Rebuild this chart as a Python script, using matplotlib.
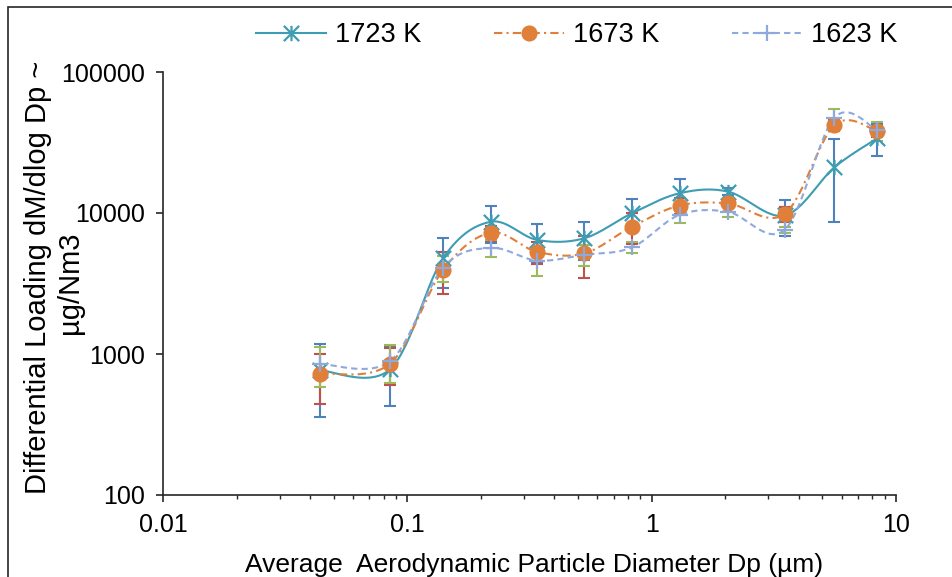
import numpy as np
import matplotlib.pyplot as plt
from matplotlib.lines import Line2D
from matplotlib.path import Path
from matplotlib.patches import Rectangle

plt.rcParams['font.family'] = ['Liberation Sans', 'DejaVu Sans']

# Datos (diametro en um, carga diferencial en ug/Nm3)
diametro = [0.044, 0.085, 0.14, 0.22, 0.34, 0.53, 0.83, 1.3, 2.05, 3.5, 5.6, 8.4]

carga_1723 = [765, 780, 4780, 8670, 6440, 6620, 9950, 13800, 14200, 9600, 21100, 34000]
error_1723 = [410, 350, 1850, 2540, 1920, 1970, 2550, 3500, 800, 2750, 12450, 8500]

carga_1673 = [725, 855, 3950, 7250, 5300, 5170, 8000, 11300, 11700, 9850, 42000, 38000]
error_1673 = [280, 255, 1300, 900, 950, 1730, 1950, 1400, 600, 1200, 3700, 3250]

carga_1623 = [850, 890, 4100, 5650, 4600, 5050, 5700, 9700, 10200, 7600, 47500, 38500]
error_1623 = [270, 270, 860, 750, 1030, 850, 500, 1250, 900, 400, 7000, 6000]

etiquetas = ['1723 K', '1673 K', '1623 K']


def suavizar(x, y, n=30):
    # curva suavizada tipo Excel (Catmull-Rom) en espacio log-log
    lx = np.log10(x)
    ly = np.log10(y)
    p = np.column_stack([lx, ly])
    m = len(p)
    xs, ys = [], []
    t = np.linspace(0, 1, n)
    for i in range(m - 1):
        p0 = p[max(i - 1, 0)]
        p1 = p[i]
        p2 = p[i + 1]
        p3 = p[min(i + 2, m - 1)]
        b1 = p1 + (p2 - p0) / 6
        b2 = p2 - (p3 - p1) / 6
        c = ((1 - t) ** 3)[:, None] * p1 + (3 * (1 - t) ** 2 * t)[:, None] * b1 \
            + (3 * (1 - t) * t ** 2)[:, None] * b2 + (t ** 3)[:, None] * p2
        xs.extend(c[:, 0])
        ys.extend(c[:, 1])
    return 10 ** np.array(xs), 10 ** np.array(ys)


# marcador tipo asterisco de Excel (X con linea vertical)
asterisco = Path([(-1, -1), (1, 1), (-1, 1), (1, -1), (0, -1), (0, 1)],
                 [Path.MOVETO, Path.LINETO] * 3)

series = [
    (carga_1723, error_1723, '#3E9DB3', '#4F81BD', '-', None, asterisco, 11, 'none'),
    (carga_1673, error_1673, '#E07F3A', '#C0504D', '-.', (4, 2, 1, 2), 'o', 10, '#E07F3A'),
    (carga_1623, error_1623, '#8EA9DB', '#9BBB59', '--', (3, 2), '+', 11, 'none'),
]

fig = plt.figure(figsize=(9.52, 5.77), dpi=100)
ax = fig.add_axes([163 / 952, 1 - 495 / 577, (896 - 163) / 952, (495 - 72) / 577])

handles = []
for k, (y, err, col, ecol, ls, dash, mk, ms, mfc) in enumerate(series):
    ax.errorbar(diametro, y, yerr=err, fmt='none', ecolor=ecol, elinewidth=1.5,
                capsize=4.5, capthick=1.5, zorder=2)
    sx, sy = suavizar(diametro, y)
    linea, = ax.plot(sx, sy, color=col, lw=1.5, ls=ls, zorder=3)
    if dash:
        linea.set_dashes(dash)
    ax.plot(diametro, y, ls='none', marker=mk, ms=ms, mec=col, mfc=mfc,
            mew=1.6, zorder=4 + k)
    h = Line2D([], [], color=col, lw=1.5, ls=ls, marker=mk, ms=ms, mec=col,
               mfc=mfc, mew=1.6)
    if dash:
        h.set_dashes(dash)
    handles.append(h)

ax.set_xscale('log')
ax.set_yscale('log')
ax.set_xlim(0.01, 10)
ax.set_ylim(100, 100000)

ax.set_xticks([0.01, 0.1, 1, 10])
ax.set_xticklabels(['0.01', '0.1', '1', '10'])
ax.set_yticks([100, 1000, 10000, 100000])
ax.set_yticklabels(['100', '1000', '10000', '100000'])
ax.yaxis.set_minor_locator(plt.NullLocator())

for s in ['top', 'right']:
    ax.spines[s].set_visible(False)
for s in ['left', 'bottom']:
    ax.spines[s].set_color('#262626')
    ax.spines[s].set_linewidth(1.2)

ax.tick_params(axis='both', which='major', labelsize=18, direction='out',
               length=5, width=1.2, color='#262626', pad=8)
ax.tick_params(axis='x', which='minor', direction='out', length=3, width=1.0,
               color='#262626')

# titulo del eje y en dos lineas
fig.text(38 / 952, 1 - 277 / 577, 'Differential Loading dM/dlog Dp ~',
         rotation=90, ha='center', va='center', fontsize=21)
fig.text(70 / 952, 1 - 283 / 577, 'µg/Nm3',
         rotation=90, ha='center', va='center', fontsize=21)
fig.text(534 / 952, 1 - 565 / 577,
         'Average  Aerodynamic Particle Diameter Dp (µm)',
         ha='center', va='center', fontsize=19)

fig.legend(handles, etiquetas, loc='center', bbox_to_anchor=(0.6056, 1 - 35 / 577),
           ncol=3, frameon=False, fontsize=19.5, handlelength=2.6,
           handletextpad=0.3, columnspacing=2.7)

# borde del grafico (recortado a la derecha y abajo)
fig.patches.append(Rectangle((8 / 952, -0.2), 1.2, 1 - 7 / 577 + 0.2,
                             transform=fig.transFigure, fill=False,
                             edgecolor='#262626', lw=1.2))

fig.savefig('out.png', dpi=100)
